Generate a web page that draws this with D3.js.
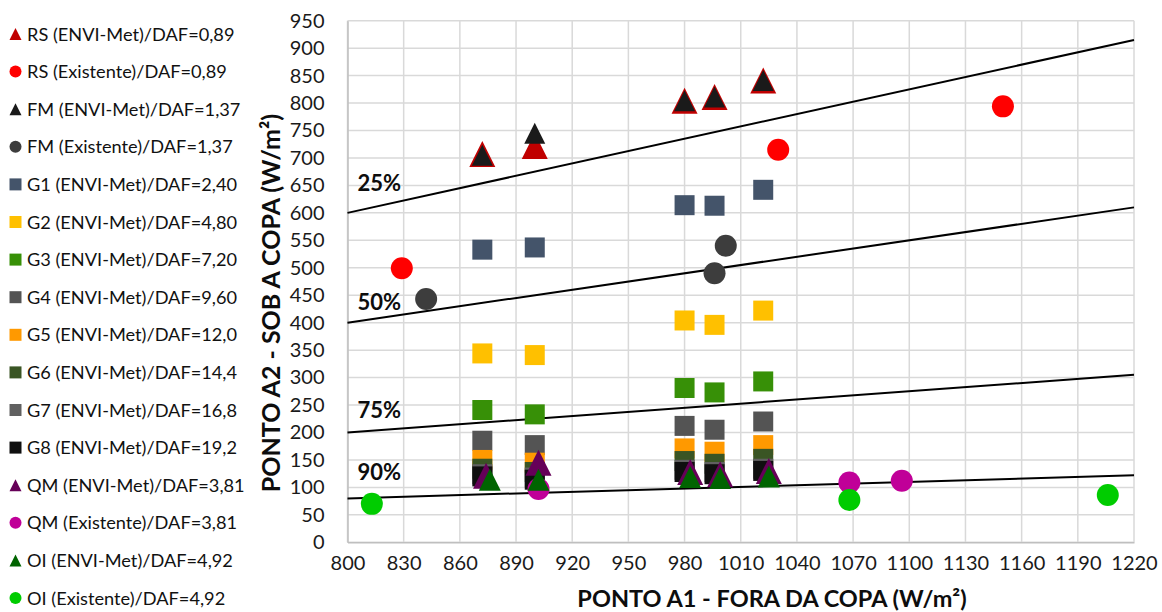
<!DOCTYPE html>
<html>
<head>
<meta charset="utf-8">
<script src="https://cdn.jsdelivr.net/npm/d3@7"></script>
<style>
  html, body { margin: 0; padding: 0; background: #fff; }
  svg { display: block; font-family: Lato, 'Open Sans', sans-serif; }
</style>
</head>
<body>
<svg id="chart"></svg>
<script>
// --- data ---
const xTicks = [800, 830, 860, 890, 920, 950, 980, 1010, 1040, 1070, 1100, 1130, 1160, 1190, 1220];
const yTicks = d3.range(0, 951, 50);

const rsEnviX = [872, 900, 980, 996, 1022];
const rsEnviY = [707, 722, 804, 811, 841];
const rsExistX = [829, 1030, 1150];
const rsExistY = [499, 715, 794];
const fmEnviX = [872, 900, 980, 996, 1022];
const fmEnviY = [705, 745, 804, 811, 841];
const fmExistX = [842, 996, 1002];
const fmExistY = [443, 490, 540];
const gX = [872, 900, 980, 996, 1022];
const g1Y = [533, 537, 614, 613, 642];
const g2Y = [344, 341, 404, 396, 422];
const g3Y = [241, 233, 281, 273, 293];
const g4Y = [185, 177, 212, 205, 220];
const g5Y = [150, 145, 171, 165, 177];
const g6Y = [134, 128, 148, 143, 152];
const g7Y = [124, 118, 132, 128, 134];
const g8Y = [120, 114, 128, 124, 130];
const qmEnviX = [874, 902, 983, 999, 1025];
const qmEnviY = [121, 145, 128, 124, 130];
const qmExistX = [902, 1068, 1096];
const qmExistY = [97, 109, 112];
const oiEnviX = [876, 902, 983, 999, 1025];
const oiEnviY = [114, 114, 119, 117, 120];
const oiExistX = [813, 1068, 1206];
const oiExistY = [70, 77, 86];

// reference lines y = k * x
const lineSlopes = [0.75, 0.5, 0.25, 0.1];
const lineLabels = ['25%', '50%', '75%', '90%'];

// series, in drawing / legend order
const series = [
  { name: 'RS (ENVI-Met)/DAF=0,89', shape: 'tri', color: '#C00000', size: 26, xs: rsEnviX, ys: rsEnviY },
  { name: 'RS (Existente)/DAF=0,89', shape: 'circle', color: '#FF0000', size: 22, xs: rsExistX, ys: rsExistY },
  { name: 'FM (ENVI-Met)/DAF=1,37', shape: 'tri', color: '#1A1A1A', size: 21, xs: fmEnviX, ys: fmEnviY },
  { name: 'FM (Existente)/DAF=1,37', shape: 'circle', color: '#3D3D3D', size: 22, xs: fmExistX, ys: fmExistY },
  { name: 'G1 (ENVI-Met)/DAF=2,40', shape: 'square', color: '#44546A', size: 20, xs: gX, ys: g1Y },
  { name: 'G2 (ENVI-Met)/DAF=4,80', shape: 'square', color: '#FFC000', size: 20, xs: gX, ys: g2Y },
  { name: 'G3 (ENVI-Met)/DAF=7,20', shape: 'square', color: '#379007', size: 20, xs: gX, ys: g3Y },
  { name: 'G4 (ENVI-Met)/DAF=9,60', shape: 'square', color: '#545454', size: 20, xs: gX, ys: g4Y },
  { name: 'G5 (ENVI-Met)/DAF=12,0', shape: 'square', color: '#FF9900', size: 20, xs: gX, ys: g5Y },
  { name: 'G6 (ENVI-Met)/DAF=14,4', shape: 'square', color: '#3A5524', size: 20, xs: gX, ys: g6Y },
  { name: 'G7 (ENVI-Met)/DAF=16,8', shape: 'square', color: '#606060', size: 20, xs: gX, ys: g7Y },
  { name: 'G8 (ENVI-Met)/DAF=19,2', shape: 'square', color: '#0F0F0F', size: 20, xs: gX, ys: g8Y },
  { name: 'QM (ENVI-Met)/DAF=3,81', shape: 'tri', color: '#660058', size: 26, xs: qmEnviX, ys: qmEnviY },
  { name: 'QM (Existente)/DAF=3,81', shape: 'circle', color: '#C00098', size: 22, xs: qmExistX, ys: qmExistY },
  { name: 'OI (ENVI-Met)/DAF=4,92', shape: 'tri', color: '#006400', size: 22, xs: oiEnviX, ys: oiEnviY },
  { name: 'OI (Existente)/DAF=4,92', shape: 'circle', color: '#00CC00', size: 22, xs: oiExistX, ys: oiExistY },
];

// --- layout ---
const width = 1162, height = 612;
const plot = { left: 347.5, right: 1134, top: 20.7, bottom: 542.3 };
const labelLift = [22, 13, 14, 18];

const svg = d3.select('#chart').attr('width', width).attr('height', height);

const x = d3.scaleLinear([800, 1220], [plot.left, plot.right]);
const y = d3.scaleLinear([0, 950], [plot.bottom, plot.top]);

// marker path centred on (0,0)
function markerPath(shape, s) {
  const h = s / 2;
  if (shape === 'tri') return `M0,${-h}L${h},${h}L${-h},${h}Z`;
  if (shape === 'square') return `M${-h},${-h}H${h}V${h}H${-h}Z`;
  return d3.arc()({ innerRadius: 0, outerRadius: h, startAngle: 0, endAngle: 2 * Math.PI });
}

/**
 * grid
 */
const grid = svg.append('g');
grid.selectAll('.gx')
  .data(xTicks)
  .join('line')
  .attr('x1', (d) => x(d)).attr('x2', (d) => x(d))
  .attr('y1', plot.top).attr('y2', plot.bottom)
  .attr('stroke', '#D9D9D9').attr('stroke-width', 1.5);
grid.selectAll('.gy')
  .data(yTicks)
  .join('line')
  .attr('x1', plot.left).attr('x2', plot.right)
  .attr('y1', (d) => y(d)).attr('y2', (d) => y(d))
  .attr('stroke', '#D9D9D9').attr('stroke-width', 1.5);

/**
 * axes
 */
const xAxis = d3.axisBottom(x).tickValues(xTicks).tickSize(0).tickPadding(14).tickFormat(d3.format('d'));
svg.append('g')
  .attr('transform', `translate(0,${plot.bottom})`)
  .call(xAxis)
  .call((g) => g.select('.domain').attr('stroke', '#BFBFBF').attr('stroke-width', 1.5))
  .call((g) => g.selectAll('.tick text').attr('font-size', 20).attr('font-family', 'Lato').attr('fill', '#1a1a1a'));

const yAxis = d3.axisLeft(y).tickValues(yTicks).tickSize(0).tickPadding(23).tickFormat(d3.format('d'));
svg.append('g')
  .attr('transform', `translate(${plot.left},0)`)
  .call(yAxis)
  .call((g) => g.select('.domain').attr('stroke', '#BFBFBF').attr('stroke-width', 1.5))
  .call((g) => g.selectAll('.tick text').attr('font-size', 20).attr('font-family', 'Lato').attr('fill', '#1a1a1a'));

svg.append('text')
  .attr('x', 772).attr('y', 607)
  .attr('text-anchor', 'middle')
  .attr('font-size', 23.5).attr('font-weight', 'bold').attr('fill', '#0d0d0d')
  .text('PONTO A1 - FORA DA COPA (W/m²)');

svg.append('text')
  .attr('transform', `translate(280,303) rotate(-90)`)
  .attr('text-anchor', 'middle')
  .attr('font-size', 25).attr('font-weight', 'bold').attr('fill', '#0d0d0d')
  .text('PONTO A2 - SOB A COPA (W/m²)');

/**
 * reference lines
 */
const refLines = svg.append('g');
lineSlopes.forEach((k, i) => {
  const line = d3.line().x((d) => x(d)).y((d) => y(d * k));
  refLines.append('path')
    .attr('d', line([800, 1220]))
    .attr('fill', 'none')
    .attr('stroke', '#000')
    .attr('stroke-width', 2);
  refLines.append('text')
    .attr('x', x(800) + 10)
    .attr('y', y(800 * k) - labelLift[i])
    .attr('font-size', 22).attr('font-weight', 'bold').attr('fill', '#0d0d0d')
    .text(lineLabels[i]);
});

/**
 * points
 */
const points = svg.append('g');
series.forEach((s) => {
  points.append('g')
    .selectAll('path')
    .data(s.xs.map((v, i) => [v, s.ys[i]]))
    .join('path')
    .attr('transform', (d) => `translate(${x(d[0])},${y(d[1])})`)
    .attr('d', markerPath(s.shape, s.size))
    .attr('fill', s.color);
});

/**
 * legend
 */
const legend = svg.append('g');
series.forEach((s, i) => {
  const cy = 34 + i * 37.6;
  legend.append('path')
    .attr('transform', `translate(15.5,${cy})`)
    .attr('d', markerPath(s.shape, 12))
    .attr('fill', s.color);
  legend.append('text')
    .attr('x', 27).attr('y', cy + 6.5)
    .attr('font-size', 18.2).attr('fill', '#111')
    .text(s.name);
});
</script>
</body>
</html>
